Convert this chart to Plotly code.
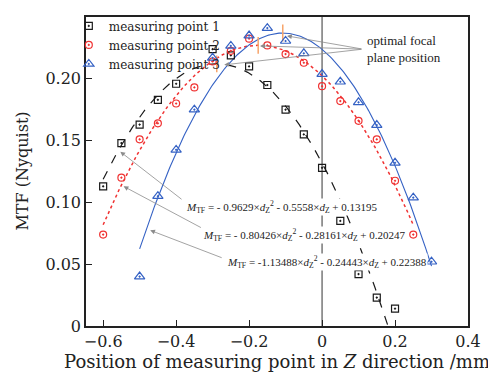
import numpy as np
import plotly.graph_objects as go

# ---- data ----
x1 = [-0.6, -0.55, -0.5, -0.45, -0.4, -0.3, -0.25, -0.2, -0.15, -0.1, -0.05, 0.0, 0.05, 0.1, 0.15, 0.2]
y1 = [0.113, 0.148, 0.163, 0.183, 0.196, 0.224, 0.219, 0.210, 0.195, 0.175, 0.155, 0.128, 0.085, 0.042, 0.023, 0.014]

x2 = [-0.6, -0.55, -0.5, -0.45, -0.4, -0.35, -0.3, -0.25, -0.2, -0.15, -0.1, -0.05, 0.0, 0.05, 0.1, 0.15, 0.2, 0.25]
y2 = [0.074, 0.120, 0.151, 0.164, 0.180, 0.193, 0.214, 0.2226, 0.2325, 0.227, 0.220, 0.213, 0.194, 0.182, 0.166, 0.151, 0.1175, 0.074]

x3 = [-0.5, -0.45, -0.4, -0.35, -0.3, -0.25, -0.2, -0.15, -0.1, -0.05, 0.0, 0.05, 0.1, 0.15, 0.2, 0.25, 0.3]
y3 = [0.040, 0.105, 0.1425, 0.175, 0.217, 0.2266, 0.235, 0.241, 0.2306, 0.2206, 0.2038, 0.1976, 0.181, 0.1626, 0.132, 0.1038, 0.052]

names = ["measuring point 1", "measuring point 2", "measuring point 3"]

# fitted quadratic coefficients (a, b, c) shown in the chart
coef1 = [-0.9629, -0.5558, 0.13195]
coef2 = [-0.80426, -0.28161, 0.20247]
coef3 = [-1.13488, -0.24443, 0.22388]
fit_range1 = [-0.6, 0.1808]
fit_range2 = [-0.6, 0.25]
fit_range3 = [-0.5, 0.3]

x_ticks = [-0.6, -0.4, -0.2, 0.0, 0.2, 0.4]
x_ticktext = ["\u22120.6", "\u22120.4", "\u22120.2", "0", "0.2", "0.4"]
y_ticks = [0, 0.05, 0.10, 0.15, 0.20, 0.25]
y_ticktext = ["0", "0.05", "0.10", "0.15", "0.20", "0.25"]

c_black = "#1a1a1a"
c_red = "#f03232"
c_blue = "#3461c4"
c_orange = "#f7a46a"
c_gray = "#8c8c8c"

fig = go.Figure()

def fit(coef, rng):
    xs = np.linspace(rng[0], rng[1], 200)
    return xs, coef[0] * xs**2 + coef[1] * xs + coef[2]

for coef, rng, col, dash, w in [(coef1, fit_range1, c_black, "dash", 1.2),
                                 (coef2, fit_range2, c_red, "dot", 1.5),
                                 (coef3, fit_range3, c_blue, "solid", 1.1)]:
    xs, ys = fit(coef, rng)
    fig.add_trace(go.Scatter(x=xs, y=ys, mode="lines", showlegend=False,
                             line=dict(color=col, dash=dash, width=w), hoverinfo="skip"))

# vertices (optimal focal plane positions)
vx, vy = [], []
for coef in (coef1, coef2, coef3):
    xv = -coef[1] / (2 * coef[0])
    vx.append(xv)
    vy.append(coef[0] * xv**2 + coef[1] * xv + coef[2])
fig.add_trace(go.Scatter(x=vx, y=vy, mode="markers", showlegend=False,
                         marker=dict(symbol="line-ns", size=12, line=dict(color=c_orange, width=1.5))))

for xs, ys, nm, sym, col, sz in [(x1, y1, names[0], "square-open-dot", c_black, 7),
                                 (x2, y2, names[1], "circle-open-dot", c_red, 7),
                                 (x3, y3, names[2], "triangle-up-open-dot", c_blue, 9)]:
    fig.add_trace(go.Scatter(x=xs, y=ys, mode="markers", name=nm,
                             marker=dict(symbol=sym, size=sz, color=col, line=dict(color=col, width=1.2))))

# vertical line at x = 0
fig.add_shape(type="line", x0=0, x1=0, y0=0, y1=0.25, xref="x", yref="y",
              line=dict(color="#333333", width=1), layer="below")

eq_font = dict(family="Liberation Serif", size=11, color="#222222")
eqs = [
    "<i>M</i><sub>TF</sub> = - 0.9629×<i>d</i><sub>Z</sub><sup>2</sup> - 0.5558×<i>d</i><sub>Z</sub> + 0.13195",
    "<i>M</i><sub>TF</sub> = - 0.80426×<i>d</i><sub>Z</sub><sup>2</sup> - 0.28161×<i>d</i><sub>Z</sub> + 0.20247",
    "<i>M</i><sub>TF</sub> = -1.13488×<i>d</i><sub>Z</sub><sup>2</sup> - 0.24443×<i>d</i><sub>Z</sub> + 0.22388",
]
eq_pos = [(-0.375, 0.096), (-0.328, 0.0734), (-0.262, 0.0516)]
for t, (ex, ey) in zip(eqs, eq_pos):
    fig.add_annotation(x=ex, y=ey, text=t, showarrow=False, xanchor="left", yanchor="middle",
                       font=eq_font, bgcolor="white", borderpad=0)

# arrows from equations to curves
eq_arrows = [((-0.381, 0.1016), (-0.553, 0.141)),
             ((-0.328, 0.079), (-0.544, 0.113)),
             ((-0.271, 0.0548), (-0.471, 0.0774))]
for (tx, ty), (hx, hy) in eq_arrows:
    fig.add_annotation(x=hx, y=hy, ax=tx, ay=ty, axref="x", ayref="y", text="",
                       showarrow=True, arrowhead=2, arrowsize=1.2, arrowwidth=0.8, arrowcolor=c_gray)

# arrows to optimal focal plane positions
tail = (0.112, 0.224)
heads = [(-0.096, 0.2347), (-0.170, 0.2266), (-0.268, 0.2113)]
for hx, hy in heads:
    fig.add_annotation(x=hx, y=hy, ax=tail[0], ay=tail[1], axref="x", ayref="y", text="",
                       showarrow=True, arrowhead=2, arrowsize=1.2, arrowwidth=0.8, arrowcolor=c_gray)
fig.add_annotation(x=0.118, y=0.224, text="optimal focal<br>plane position", showarrow=False,
                   xanchor="left", yanchor="middle", align="left",
                   font=dict(family="Liberation Serif", size=13, color="#222222"))

# axis titles
fig.add_annotation(xref="paper", yref="paper", x=-0.1675, y=0.5, textangle=-90,
                   text="MTF (Nyquist)", showarrow=False, xanchor="center", yanchor="middle",
                   font=dict(family="DejaVu Serif", size=16, color="#222222"))
fig.add_annotation(xref="paper", yref="paper", x=0.5, y=-0.1165,
                   text="Position of measuring point in <i>Z</i> direction /mm", showarrow=False,
                   xanchor="center", yanchor="middle",
                   font=dict(family="DejaVu Serif", size=18, color="#222222"))

fig.update_layout(
    width=488, height=371,
    margin=dict(l=78, r=28, t=9, b=53, autoexpand=False),
    plot_bgcolor="white", paper_bgcolor="white",
    font=dict(family="DejaVu Serif", color="#222222"),
    legend=dict(x=-0.045, y=1.018, xanchor="left", yanchor="top", bgcolor="rgba(0,0,0,0)",
                font=dict(family="DejaVu Serif", size=12), itemwidth=30, tracegroupgap=0),
    showlegend=True,
)
fig.update_xaxes(range=[-0.647, 0.4], tickvals=x_ticks, ticktext=x_ticktext,
                 ticks="inside", ticklen=6, tickcolor="#222", showline=True, linecolor="#222",
                 linewidth=1.5, mirror=True, showgrid=False, zeroline=False, automargin=False,
                 tickfont=dict(family="DejaVu Serif", size=16))
fig.update_yaxes(range=[0, 0.25], tickvals=y_ticks, ticktext=y_ticktext,
                 ticks="inside", ticklen=6, tickcolor="#222", showline=True, linecolor="#222",
                 linewidth=1.5, mirror=True, showgrid=False, zeroline=False, automargin=False,
                 tickfont=dict(family="DejaVu Serif", size=16))

fig.write_html("out.html")
